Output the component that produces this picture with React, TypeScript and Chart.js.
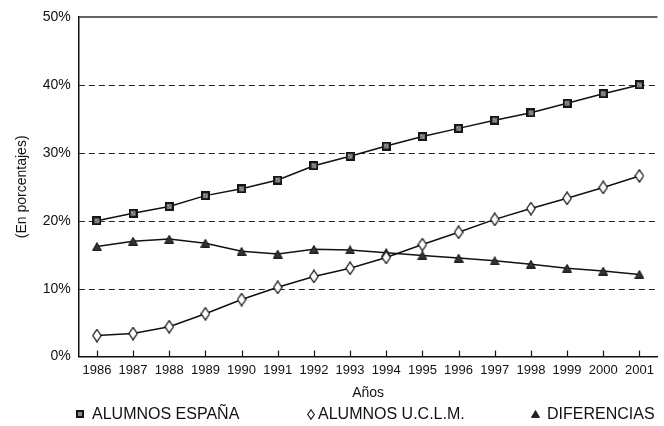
import React, { useEffect, useRef } from "react";
import { Chart, registerables } from "chart.js";

Chart.register(...registerables);

const years = ["1986","1987","1988","1989","1990","1991","1992","1993","1994","1995","1996","1997","1998","1999","2000","2001"];
const alumnosEspana = [20.0, 21.1, 22.1, 23.7, 24.7, 26.0, 28.1, 29.5, 31.0, 32.4, 33.6, 34.8, 35.9, 37.3, 38.7, 40.0];
const alumnosUclm = [3.1, 3.4, 4.4, 6.3, 8.4, 10.2, 11.8, 13.0, 14.6, 16.5, 18.3, 20.2, 21.8, 23.3, 24.9, 26.6];
const diferencias = [16.2, 17.0, 17.3, 16.7, 15.5, 15.1, 15.8, 15.7, 15.3, 14.9, 14.5, 14.1, 13.6, 13.0, 12.6, 12.1];
const seriesNames = ["ALUMNOS ESPAÑA", "ALUMNOS U.C.L.M.", "DIFERENCIAS"];
const yTicks = [0, 10, 20, 30, 40, 50];
const yTitle = "(En porcentajes)";
const xTitle = "Años";

const FONT = "'Liberation Sans', Arial, Helvetica, sans-serif";
const INK = "#111";

function makeSquare(): HTMLCanvasElement {
  const c = document.createElement("canvas");
  c.width = 9; c.height = 9;
  const g = c.getContext("2d")!;
  g.fillStyle = "#161616";
  g.fillRect(0, 0, 9, 9);
  g.fillStyle = "#7a7a7a";
  g.fillRect(2, 2, 5, 5);
  g.fillStyle = "#bbb";
  g.fillRect(3, 3, 1, 1);
  g.fillRect(5, 5, 1, 1);
  return c;
}
function makeDiamond(): HTMLCanvasElement {
  const c = document.createElement("canvas");
  c.width = 10; c.height = 14;
  const g = c.getContext("2d")!;
  g.beginPath();
  g.moveTo(5, 0.8); g.lineTo(9.2, 7); g.lineTo(5, 13.2); g.lineTo(0.8, 7); g.closePath();
  g.fillStyle = "#fff"; g.fill();
  g.lineWidth = 1.2; g.strokeStyle = INK; g.stroke();
  return c;
}
function makeTriangle(): HTMLCanvasElement {
  const c = document.createElement("canvas");
  c.width = 10; c.height = 9;
  const g = c.getContext("2d")!;
  g.beginPath();
  g.moveTo(5, 0.6); g.lineTo(9.4, 8.4); g.lineTo(0.6, 8.4); g.closePath();
  g.fillStyle = "#333"; g.fill();
  g.lineWidth = 1; g.strokeStyle = INK; g.stroke();
  return c;
}

const gridPlugin = {
  id: "customGrid",
  beforeDatasetsDraw(chart: any) {
    const { ctx, chartArea, scales } = chart;
    const y = scales.y;
    const x = scales.x;
    ctx.save();
    ctx.strokeStyle = "#222";
    ctx.lineWidth = 1;
    ctx.setLineDash([6, 4]);
    yTicks.forEach((v) => {
      if (v === yTicks[0] || v === yTicks[yTicks.length - 1]) return;
      const py = Math.round(y.getPixelForValue(v)) + 0.5;
      ctx.beginPath();
      ctx.moveTo(chartArea.left, py);
      ctx.lineTo(chartArea.right, py);
      ctx.stroke();
    });
    ctx.setLineDash([]);
    ctx.strokeStyle = "#333";
    ctx.lineWidth = 1.5;
    const top = y.getPixelForValue(yTicks[yTicks.length - 1]);
    ctx.beginPath();
    ctx.moveTo(chartArea.left, top);
    ctx.lineTo(chartArea.right, top);
    ctx.stroke();
    ctx.strokeStyle = INK;
    ctx.lineWidth = 1.2;
    years.forEach((_, i) => {
      const px = Math.round(x.getPixelForValue(i)) + 0.5;
      ctx.beginPath();
      ctx.moveTo(px, chartArea.bottom);
      ctx.lineTo(px, chartArea.bottom - 6);
      ctx.stroke();
    });
    ctx.restore();
  },
};

function LegendMarker({ kind }: { kind: number }) {
  if (kind === 0) {
    return (
      <svg width="8" height="8" style={{ display: "block" }}>
        <rect x="0" y="0" width="8" height="8" fill="#161616" />
        <rect x="2" y="2" width="4" height="4" fill="#8a8a8a" />
      </svg>
    );
  }
  if (kind === 1) {
    return (
      <svg width="8" height="11" style={{ display: "block" }}>
        <path d="M4 0.7 L7.3 5.5 L4 10.3 L0.7 5.5 Z" fill="#fff" stroke={INK} strokeWidth="1.1" />
      </svg>
    );
  }
  return (
    <svg width="9" height="8" style={{ display: "block" }}>
      <path d="M4.5 0.5 L8.6 7.5 L0.4 7.5 Z" fill="#222" stroke={INK} strokeWidth="0.8" />
    </svg>
  );
}

const legendPlacement = [
  { left: 76, gap: 8 },
  { left: 307, gap: 3 },
  { left: 531, gap: 7 },
];

export default function App() {
  const ref = useRef<HTMLCanvasElement | null>(null);

  useEffect(() => {
    if (!ref.current) return;
    const sq = makeSquare();
    const di = makeDiamond();
    const tr = makeTriangle();
    const lineCommon = {
      borderColor: INK,
      borderWidth: 1.5,
      tension: 0,
      fill: false,
      pointRadius: 5,
      pointHoverRadius: 5,
    };
    const chart = new Chart(ref.current, {
      type: "line",
      data: {
        labels: years,
        datasets: [
          { ...lineCommon, label: seriesNames[0], data: alumnosEspana, pointStyle: sq as any },
          { ...lineCommon, label: seriesNames[1], data: alumnosUclm, pointStyle: di as any },
          { ...lineCommon, label: seriesNames[2], data: diferencias, pointStyle: tr as any },
        ],
      },
      options: {
        animation: false,
        responsive: false,
        devicePixelRatio: 1,
        layout: { padding: { top: 17, left: 14, right: 0, bottom: 24.5 } },
        plugins: {
          legend: { display: false },
          tooltip: { enabled: false },
        },
        scales: {
          x: {
            type: "category",
            offset: true,
            grid: { display: false, drawTicks: false },
            border: { display: true, color: INK, width: 1.5 },
            ticks: {
              color: INK,
              font: { family: FONT, size: 13 },
              padding: 6,
              maxRotation: 0,
              autoSkip: false,
            },
            title: {
              display: true,
              text: xTitle,
              color: INK,
              font: { family: FONT, size: 14 },
              padding: { top: 0.5, bottom: 0 },
            },
          },
          y: {
            min: 0,
            max: 50,
            grid: { display: false, drawTicks: false },
            border: { display: true, color: INK, width: 1.5 },
            ticks: {
              stepSize: 10,
              color: INK,
              font: { family: FONT, size: 14 },
              padding: 8,
              callback: (v: any) => v + "%",
            },
            title: {
              display: true,
              text: yTitle,
              color: INK,
              font: { family: FONT, size: 14 },
              padding: { top: 0, bottom: 4 },
            },
          },
        },
      },
      plugins: [gridPlugin],
    });
    return () => chart.destroy();
  }, []);

  return (
    <div style={{ position: "fixed", left: 0, top: 0, width: 664, height: 426, background: "#fff" }}>
      <canvas ref={ref} width={664} height={426} style={{ display: "block" }} />
      {seriesNames.map((name, i) => (
        <div
          key={name}
          style={{
            position: "absolute",
            top: 404,
            left: legendPlacement[i].left,
            display: "flex",
            alignItems: "center",
            gap: legendPlacement[i].gap,
            fontFamily: FONT,
            fontSize: 16,
            lineHeight: "20px",
            color: INK,
            whiteSpace: "nowrap",
          }}
        >
          <LegendMarker kind={i} />
          <span>{name}</span>
        </div>
      ))}
    </div>
  );
}
